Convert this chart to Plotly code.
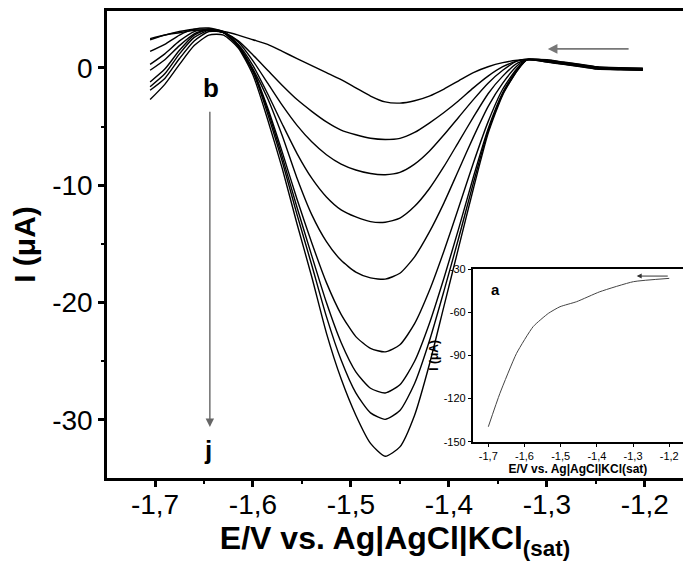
import plotly.graph_objects as go

# ---- main voltammograms (curves b..j) ----
E = [-1.705, -1.69, -1.675, -1.66, -1.645, -1.63, -1.615, -1.60, -1.585, -1.57,
     -1.555, -1.54, -1.525, -1.51, -1.495, -1.48, -1.465, -1.45, -1.435, -1.42,
     -1.405, -1.39, -1.375, -1.36, -1.345, -1.33, -1.32,
     -1.30, -1.283, -1.265, -1.249, -1.225, -1.202]

I_b = [2.5, 2.8, 3.0, 3.2, 3.2, 3.1, 2.8, 2.4, 2.0, 1.4,
       0.8, 0.2, -0.4, -1.0, -1.7, -2.4, -2.9, -3.0, -2.8, -2.4,
       -1.8, -1.1, -0.4, 0.1, 0.45, 0.65, 0.7,
       0.7, 0.5, 0.3, 0.1, 0.02, -0.02]
I_c = [2.4, 2.8, 3.1, 3.3, 3.3, 3.0, 2.3, 1.1, -0.2, -1.5,
       -2.7, -3.7, -4.6, -5.3, -5.7, -6.0, -6.1, -6.0, -5.5, -4.7,
       -3.8, -2.8, -1.7, -0.7, 0.1, 0.6, 0.75,
       0.64, 0.44, 0.24, 0.04, -0.04, -0.07]
I_d = [1.4, 2.0, 2.8, 3.3, 3.4, 3.1, 2.2, 0.6, -1.3, -3.2,
       -4.9, -6.3, -7.4, -8.2, -8.7, -9.0, -9.1, -8.9, -8.2, -7.1,
       -5.7, -4.2, -2.7, -1.3, -0.2, 0.6, 0.75,
       0.6, 0.4, 0.2, 0.0, -0.07, -0.1]
I_e = [0.3, 1.2, 2.3, 3.1, 3.3, 3.0, 2.0, 0.2, -2.2, -4.8,
       -7.3, -9.4, -11.0, -12.1, -12.7, -13.1, -13.15, -12.8, -11.8, -10.3,
       -8.4, -6.3, -4.2, -2.2, -0.7, 0.4, 0.7,
       0.56, 0.36, 0.16, -0.04, -0.11, -0.14]
I_f = [-0.2, 0.7, 1.9, 2.9, 3.3, 3.0, 1.9, -0.1, -2.6, -5.8,
       -9.4, -12.5, -14.8, -16.4, -17.4, -17.9, -18.0, -17.5, -16.1, -14.0,
       -11.5, -8.7, -5.9, -3.3, -1.3, 0.2, 0.7,
       0.52, 0.32, 0.12, -0.08, -0.15, -0.18]
I_g = [-1.2, -0.1, 1.5, 2.8, 3.3, 3.1, 1.9, -0.2, -3.4, -7.2,
       -11.2, -14.9, -18.3, -21.0, -22.9, -23.9, -24.2, -23.6, -21.8, -19.0,
       -15.6, -11.9, -8.1, -4.6, -1.8, 0.0, 0.7,
       0.6, 0.42, 0.21, 0.01, -0.06, -0.09]
I_h = [-1.6, -0.5, 1.2, 2.6, 3.2, 3.0, 1.8, -0.3, -3.6, -7.6,
       -11.9, -16.0, -20.0, -23.4, -25.9, -27.3, -27.7, -27.0, -25.0, -21.8,
       -17.9, -13.7, -9.3, -5.2, -2.1, -0.1, 0.7,
       0.67, 0.47, 0.27, 0.07, 0.0, -0.04]
I_i = [-1.9, -0.9, 0.8, 2.3, 3.1, 3.0, 1.9, -0.3, -3.9, -8.0,
       -12.5, -16.8, -21.2, -24.9, -27.7, -29.4, -29.95, -29.2, -26.9, -23.3,
       -19.0, -14.5, -9.8, -5.4, -2.2, -0.2, 0.7,
       0.55, 0.35, 0.15, -0.05, -0.12, -0.16]
I_j = [-2.7, -1.4, 0.3, 1.9, 2.8, 2.8, 1.7, -0.6, -4.4, -8.6,
       -13.3, -17.8, -22.6, -26.5, -29.6, -32.0, -33.1, -32.3, -29.6, -25.3,
       -20.3, -15.3, -10.3, -5.6, -2.3, -0.2, 0.7,
       0.5, 0.3, 0.1, -0.1, -0.17, -0.2]

curve_names = ["b", "c", "d", "e", "f", "g", "h", "i", "j"]
curves = [I_b, I_c, I_d, I_e, I_f, I_g, I_h, I_i, I_j]

# ---- inset (curve a) ----
E_a = [-1.7, -1.668, -1.622, -1.576, -1.534, -1.502, -1.456, -1.392, -1.299, -1.2]
I_a = [-139.6, -116.4, -88.6, -70.0, -60.8, -56.2, -52.7, -45.8, -38.8, -36.5]

# ---- tick labels ----
x_ticks = [-1.7, -1.6, -1.5, -1.4, -1.3, -1.2]
x_ticktext = ["-1,7", "-1,6", "-1,5", "-1,4", "-1,3", "-1,2"]
x_minor = [-1.65, -1.55, -1.45, -1.35, -1.25]
y_ticks = [0, -10, -20, -30]
y_ticktext = ["0", "-10", "-20", "-30"]
y_minor = [-5, -15, -25]
ya_ticks = [-30, -60, -90, -120, -150]
ya_ticktext = ["-30", "-60", "-90", "-120", "-150"]

FONT = "Arial, Liberation Sans, sans-serif"

fig = go.Figure()
for name, vals in zip(curve_names, curves):
    fig.add_trace(go.Scatter(x=E, y=vals, mode="lines", name=name,
                             line=dict(color="black", width=1.4, shape="spline", smoothing=0.6),
                             showlegend=False, hoverinfo="skip"))

fig.add_trace(go.Scatter(x=E_a, y=I_a, mode="lines", name="a", xaxis="x2", yaxis="y2",
                         line=dict(color="#444444", width=1, shape="spline", smoothing=0.5),
                         showlegend=False, hoverinfo="skip"))

fig.update_layout(
    width=683, height=564,
    margin=dict(l=107, r=0, t=11, b=86),
    paper_bgcolor="white", plot_bgcolor="white",
    font=dict(family=FONT, color="black"),
    xaxis=dict(range=[-1.749, -1.161], domain=[0, 1], showgrid=False, zeroline=False, automargin=False,
               showline=True, linecolor="black", linewidth=2.5, mirror=True,
               ticks="outside", ticklen=6, tickwidth=2.5, tickcolor="black",
               tickvals=x_ticks, ticktext=x_ticktext, tickfont=dict(size=28), ticklabelstandoff=-6,
               minor=dict(tickvals=x_minor, ticks="outside", ticklen=3, tickwidth=2, tickcolor="black"),
               title=dict(text="<b>E/V vs. Ag|AgCl|KCl<sub>(sat)</sub></b>", font=dict(size=32), standoff=2)),
    yaxis=dict(range=[-34.95, 4.85], domain=[0, 1], showgrid=False, zeroline=False, automargin=False,
               showline=True, linecolor="black", linewidth=2.5, mirror=False,
               ticks="outside", ticklen=6, tickwidth=2.5, tickcolor="black",
               tickvals=y_ticks, ticktext=y_ticktext, tickfont=dict(size=28),
               minor=dict(tickvals=y_minor, ticks="outside", ticklen=3, tickwidth=2, tickcolor="black"),
               title=dict(text="<b>I (\u03bcA)</b>", font=dict(size=30), standoff=8)),
    xaxis2=dict(range=[-1.743, -1.162], domain=[0.635, 1.0], anchor="y2", showgrid=False, zeroline=False,
                automargin=False,
                showline=True, linecolor="black", linewidth=1.8, mirror=True,
                ticks="outside", ticklen=3, tickwidth=1.2, tickcolor="black",
                tickvals=x_ticks, ticktext=x_ticktext, tickfont=dict(size=11),
                title=dict(text="<b>E/V vs. Ag|AgCl|KCl(sat)</b>", font=dict(size=12), standoff=2)),
    yaxis2=dict(range=[-150, -30], domain=[0.0777, 0.4475], anchor="x2", showgrid=False, zeroline=False,
                automargin=False,
                showline=True, linecolor="black", linewidth=1.8, mirror=False,
                ticks="outside", ticklen=3, tickwidth=1.2, tickcolor="black",
                tickvals=ya_ticks, ticktext=ya_ticktext, tickfont=dict(size=11),
                title=dict(text="<b>I (\u03bcA)</b>", font=dict(size=12), standoff=2)),
)

# arrows and labels
fig.add_annotation(x=-1.299, y=1.62, ax=-1.215, ay=1.62, xref="x", yref="y", axref="x", ayref="y",
                   text="", showarrow=True, arrowhead=2, arrowsize=1.2, arrowwidth=1.6, arrowcolor="#777777")
fig.add_annotation(x=-1.644, y=-30.6, ax=-1.644, ay=-3.6, xref="x", yref="y", axref="x", ayref="y",
                   text="", showarrow=True, arrowhead=2, arrowsize=1.2, arrowwidth=1.4, arrowcolor="#666666")
fig.add_annotation(x=-1.643, y=-1.7, xref="x", yref="y", text="<b>b</b>", showarrow=False,
                   font=dict(size=26, color="black"))
fig.add_annotation(x=-1.646, y=-32.6, xref="x", yref="y", text="<b>j</b>", showarrow=False,
                   font=dict(size=26, color="black"))
fig.add_annotation(x=-1.29, y=-34.9, ax=-1.2, ay=-34.9, xref="x2", yref="y2", axref="x2", ayref="y2",
                   text="", showarrow=True, arrowhead=2, arrowsize=1, arrowwidth=1, arrowcolor="#333333")
fig.add_annotation(x=-1.68, y=-44, xref="x2", yref="y2", text="<b>a</b>", showarrow=False,
                   font=dict(size=15, color="black"))

fig.write_html("out.html", config={"displayModeBar": False},
               post_script="document.body.style.margin='0';document.body.style.overflow='hidden';")
